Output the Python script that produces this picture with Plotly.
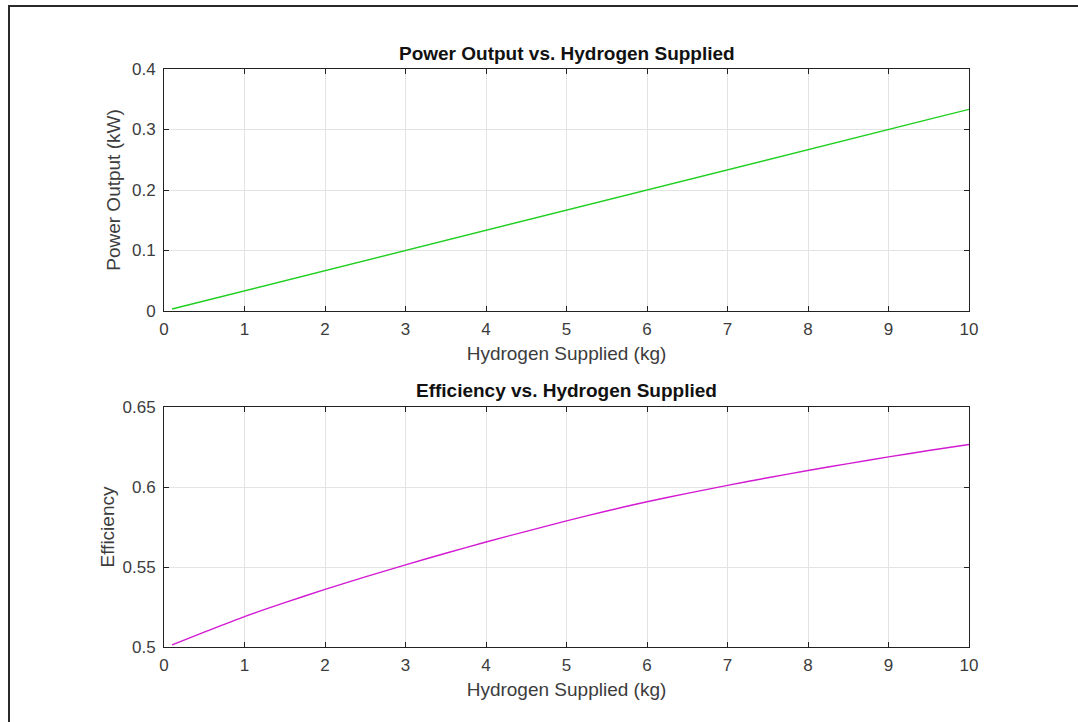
import plotly.graph_objects as go

# Data
hydrogen_kg = [0.1, 0.5, 1, 1.5, 2, 2.5, 3, 3.5, 4, 4.5, 5, 5.5, 6, 6.5, 7, 7.5, 8, 8.5, 9, 9.5, 10]
power_kw = [0.0033, 0.0167, 0.0333, 0.05, 0.0667, 0.0833, 0.1, 0.1167, 0.1333, 0.15, 0.1667,
            0.1833, 0.2, 0.2167, 0.2333, 0.25, 0.2667, 0.2833, 0.3, 0.3167, 0.3333]
efficiency = [0.5013, 0.5093, 0.5190, 0.5277, 0.5360, 0.5438, 0.5513, 0.5586, 0.5656, 0.5723,
              0.5788, 0.5850, 0.5908, 0.5960, 0.6010, 0.6058, 0.6103, 0.6146, 0.6188, 0.6228,
              0.6266]

x_ticks = list(range(0, 11))
x_ticktext = [str(v) for v in x_ticks]
power_ticks = [0, 0.1, 0.2, 0.3, 0.4]
power_ticktext = ["0", "0.1", "0.2", "0.3", "0.4"]
eff_ticks = [0.5, 0.55, 0.6, 0.65]
eff_ticktext = ["0.5", "0.55", "0.6", "0.65"]

FONT = "Liberation Sans, Arial, Helvetica, sans-serif"
TICKC = "#3c3c3c"

fig = go.Figure()
fig.add_trace(go.Scatter(x=hydrogen_kg, y=power_kw, mode="lines",
                         line=dict(color="#1fcf1f", width=1.4), xaxis="x", yaxis="y",
                         showlegend=False))
fig.add_trace(go.Scatter(x=hydrogen_kg, y=efficiency, mode="lines",
                         line=dict(color="#d21ad2", width=1.4, shape="spline", smoothing=0.8),
                         xaxis="x2", yaxis="y2", showlegend=False))

W, H = 1078, 722
L, R, T, B = 164, 1078 - 969, 69, 722 - 647
pw, ph = W - L - R, H - T - B

def px(xp):
    return (xp - L) / pw

def py(yp):
    return (H - B - yp) / ph

axis_common = dict(showgrid=True, gridcolor="#e3e3e3", gridwidth=1,
                   showline=True, linecolor="#222", linewidth=1, mirror="ticks",
                   ticks="inside", ticklen=5, tickcolor="#222",
                   tickfont=dict(family=FONT, size=17, color=TICKC), zeroline=False)

title_font = dict(family=FONT, size=19, color=TICKC)

fig.update_layout(
    width=W, height=H,
    margin=dict(l=L, r=R, t=T, b=B),
    paper_bgcolor="white", plot_bgcolor="white",
    xaxis=dict(domain=[0, 1], anchor="y", range=[0, 10], tickvals=x_ticks,
               ticktext=x_ticktext, ticklabelstandoff=3,
               title=dict(text="Hydrogen Supplied (kg)", standoff=8, font=title_font),
               **axis_common),
    yaxis=dict(domain=[py(311), 1], anchor="x", range=[0, 0.4], tickvals=power_ticks,
               ticktext=power_ticktext, ticklabelstandoff=4,
               title=dict(text="Power Output (kW)", standoff=6, font=title_font),
               **axis_common),
    xaxis2=dict(domain=[0, 1], anchor="y2", range=[0, 10], tickvals=x_ticks,
                ticktext=x_ticktext, ticklabelstandoff=3,
                title=dict(text="Hydrogen Supplied (kg)", standoff=8, font=title_font),
                **axis_common),
    yaxis2=dict(domain=[0, py(407)], anchor="x2", range=[0.5, 0.65], tickvals=eff_ticks,
                ticktext=eff_ticktext, ticklabelstandoff=4,
                title=dict(text="Efficiency", standoff=2, font=title_font),
                **axis_common),
    annotations=[
        dict(text="<b>Power Output vs. Hydrogen Supplied</b>", xref="paper", yref="paper",
             x=0.5, y=py(53), xanchor="center", yanchor="middle", showarrow=False,
             font=dict(family=FONT, size=19, color="#111")),
        dict(text="<b>Efficiency vs. Hydrogen Supplied</b>", xref="paper", yref="paper",
             x=0.5, y=py(390), xanchor="center", yanchor="middle", showarrow=False,
             font=dict(family=FONT, size=19, color="#111")),
    ],
    shapes=[
        dict(type="rect", xref="paper", yref="paper",
             x0=px(9), x1=px(1090), y0=py(740), y1=py(6),
             line=dict(color="#2a2a2a", width=2), fillcolor="rgba(0,0,0,0)", layer="below"),
    ],
)

fig.write_html("out.html")
